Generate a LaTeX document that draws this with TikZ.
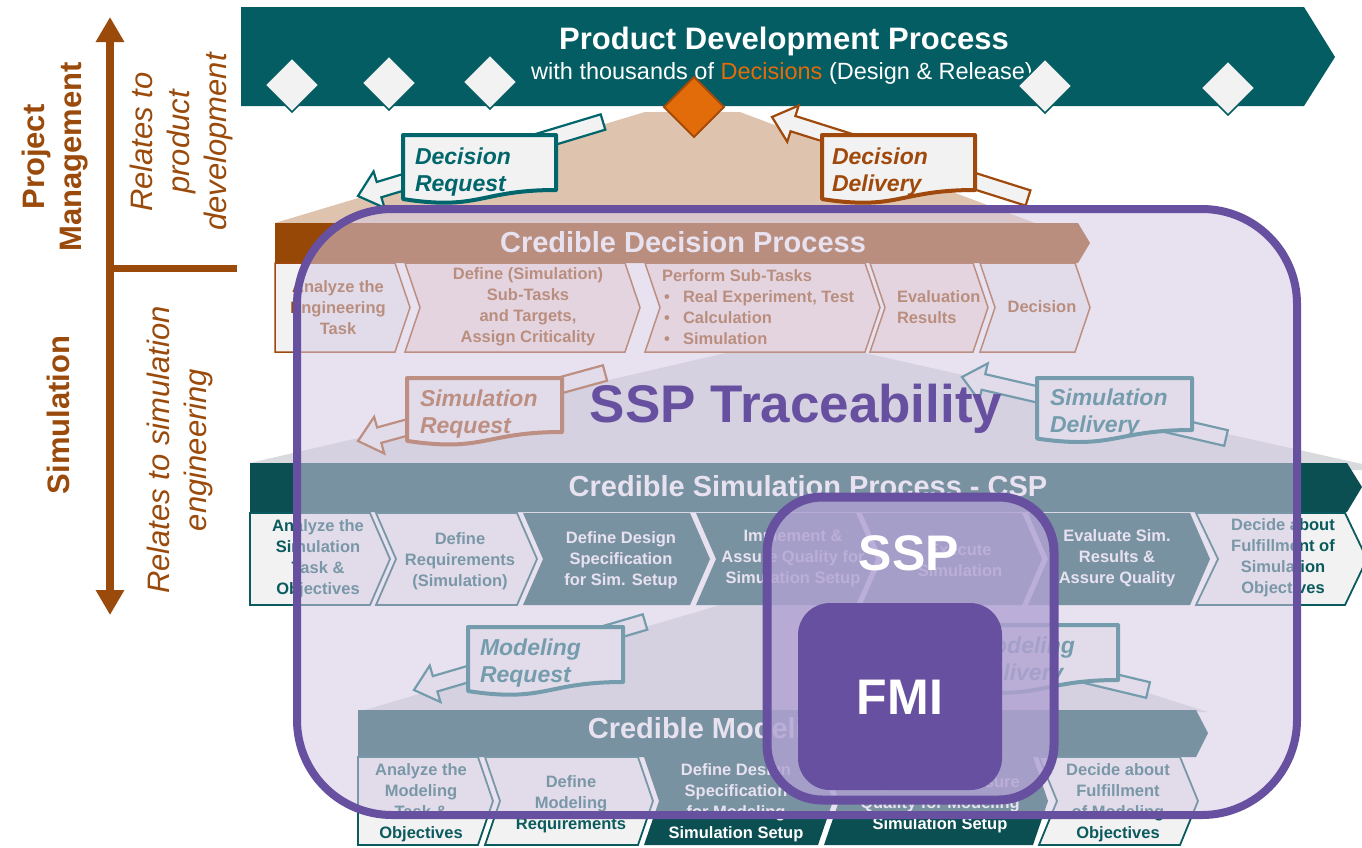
\documentclass[tikz,border=0pt]{standalone}
\usepackage{fontspec}
\setmainfont{Liberation Sans}
\usetikzlibrary{calc,shapes.geometric,arrows.meta}

\definecolor{bannerteal}{HTML}{035D62}
\definecolor{darkteal}{HTML}{0B4F53}
\definecolor{textteal}{HTML}{0B5A5E}
\definecolor{calloutteal}{HTML}{00666B}
\definecolor{pmbrown}{HTML}{9A4A0B}
\definecolor{barbrown}{HTML}{974706}
\definecolor{calloutbrown}{HTML}{A0490C}
\definecolor{decorange}{HTML}{E36C0A}
\definecolor{decedge}{HTML}{A64A0A}
\definecolor{lightfill}{HTML}{F2F2F2}
\definecolor{pinkfill}{HTML}{F8E2DA}
\definecolor{tanfill}{HTML}{DEC4AE}
\definecolor{tentgray}{HTML}{D8DADE}
\definecolor{ssppurple}{HTML}{67509F}
\definecolor{veil}{RGB}{213,202,228}
\definecolor{sspveil}{RGB}{176,162,210}

\newcommand{\fs}[2]{\fontsize{#1}{#2}\selectfont}

% process step with a notched left side: x0, x1, ytop, ybot, depth, style
\newcommand{\chevron}[6]{%
  \path[#6] (#1,#3) -- (#2,#3) -- ({#2+#5},{(#3+#4)/2}) -- (#2,#4) -- (#1,#4)
    -- ({#1+#5},{(#3+#4)/2}) -- cycle;}
% first step of a row, flat left side
\newcommand{\chevronflat}[6]{%
  \path[#6] (#1,#3) -- (#2,#3) -- ({#2+#5},{(#3+#4)/2}) -- (#2,#4) -- (#1,#4) -- cycle;}

% document-shaped message box: name, x0, ytop, x1, ybottom(right), colour
\newcommand{\docbox}[6]{%
  \pgfmathsetmacro\docH{(#5-#3)/0.802}%
  \pgfmathsetmacro\docL{#3+0.934*\docH}%
  \pgfmathsetmacro\docC{#3+1.107*\docH}%
  \pgfmathsetmacro\docM{(#2+#4)/2}%
  \draw[callbox, draw=#6] (#2,#3) -- (#4,#3) -- (#4,#5)
    .. controls (\docM,#5) and (\docM,\docC) .. (#2,\docL) -- cycle;
  \coordinate (#1) at (#2,#3);}

% hollow block arrow from a tail coordinate to a tip coordinate
\newcommand{\blockarrow}[3]{%
  \coordinate (#2-base) at ($(#2)!22pt!(#1)$);
  \draw[arrowbox, draw=#3] (#2) -- ($(#2-base)!19pt!90:(#2)$) -- ($(#2-base)!8pt!90:(#2)$)
    -- ($(#1)!8pt!90:(#2-base)$) -- ($(#1)!8pt!-90:(#2-base)$)
    -- ($(#2-base)!8pt!-90:(#2)$) -- ($(#2-base)!19pt!-90:(#2)$) -- cycle;}

\tikzset{
  every node/.style={inner sep=0pt, outer sep=0pt},
  dectext/.style={font=\bfseries\fs{16.5}{21}, text=barbrown, align=center},
  lighttext/.style={font=\bfseries\fs{16.5}{21}, text=textteal, align=center},
  darktext/.style={font=\bfseries\fs{16.5}{21}, text=white, align=center},
  bartitle/.style={font=\bfseries\fs{29}{34}, text=white},
  calltext/.style={font=\bfseries\itshape\fs{23}{27}, align=left, anchor=base west},
  callbox/.style={fill=lightfill, line width=4pt, line join=round},
  arrowbox/.style={fill=lightfill, line width=2.2pt, line join=miter},
  decstep/.style={fill=pinkfill, draw=calloutbrown, line width=1.5pt},
  decstepl/.style={fill=lightfill, draw=calloutbrown, line width=1.5pt},
  tealstepl/.style={fill=lightfill, draw=textteal, line width=1.8pt},
  tealstepd/.style={fill=darkteal},
  milestone/.style={diamond, minimum width=54pt, minimum height=54pt, fill=lightfill, draw=bannerteal, line width=1.5pt},
  sidebold/.style={font=\bfseries\fs{31}{37}, text=pmbrown, rotate=90, align=center},
  sideital/.style={font=\itshape\fs{31}{37}, text=pmbrown, rotate=90, align=center}
}

\begin{document}
\begin{tikzpicture}[x=1pt,y=-1pt]
\clip (0,0) rectangle (1362,847);
\fill[white] (0,0) rectangle (1362,847);

% fans linking one level to the next
\fill[tanfill] (275,223) -- (645,112) -- (740,112) -- (1035,223) -- cycle;
\fill[tentgray] (250,463) -- (730,352) -- (860,352) -- (1362,464) -- (1362,470) -- (250,470) -- cycle;
\fill[tentgray] (358,712) -- (720,605) -- (870,605) -- (1208,712) -- cycle;

% product development banner
\fill[bannerteal] (241,7) -- (1304,7) -- (1335,57) -- (1304,106) -- (241,106) -- cycle;
\node[font=\bfseries\fs{31}{31}, text=white] (pdp) at (784,41) {Product Development Process};
\node[font=\fs{23.5}{23.5}, text=white] (pdpsub) at (782,73)
  {with thousands of \textcolor{decorange}{Decisions} (Design \& Release)};
\node[milestone] (m1) at (292,85) {};
\node[milestone] (m2) at (389,83) {};
\node[milestone] (m3) at (490,82) {};
\node[milestone] (m4) at (1045,86) {};
\node[milestone] (m5) at (1228,88) {};
\node[diamond, minimum width=60pt, minimum height=60pt, fill=decorange, draw=decedge, line width=2pt] (dec) at (694,107) {};

% credible decision process
\fill[barbrown] (275,223) -- (1078,223) -- (1090,243) -- (1078,263) -- (275,263) -- cycle;
\node[bartitle] (cdp) at (683,242) {Credible Decision Process};
\chevronflat{275}{395}{263}{352}{15}{decstepl}
\chevron{405}{625}{263}{352}{15}{decstep}
\chevron{645}{865}{263}{352}{15}{decstep}
\chevron{870}{973}{263}{352}{15}{decstep}
\chevron{980}{1075}{263}{352}{15}{decstepl}
\node[dectext] (d1) at (338,308) {Analyze the\\Engineering\\Task};
\node[dectext] (d2) at (528,307) {Define (Simulation)\\Sub-Tasks\\and Targets,\\Assign Criticality};
\node[dectext, align=left, anchor=west] (d3) at (662,307)
  {Perform Sub-Tasks\\\hspace*{2pt}\makebox[19pt][l]{\textbullet}Real Experiment, Test\\
   \hspace*{2pt}\makebox[19pt][l]{\textbullet}Calculation\\\hspace*{2pt}\makebox[19pt][l]{\textbullet}Simulation};
\node[dectext, align=left, anchor=west] (d4) at (897,307) {Evaluation\\Results};
\node[dectext] (d5) at (1042,307) {Decision};

% credible simulation process
\fill[darkteal] (250,463) -- (1347,463) -- (1362,487) -- (1347,512) -- (250,512) -- cycle;
\node[bartitle] (csp) at (808,486) {Credible Simulation Process - CSP};
\chevron{523}{690}{513}{605}{20}{tealstepd}
\chevron{696}{856}{513}{605}{20}{tealstepd}
\chevron{862}{1022}{513}{605}{20}{tealstepd}
\chevron{1028}{1190}{513}{605}{20}{tealstepd}
\chevronflat{250}{370}{513}{605}{20}{tealstepl}
\chevron{376}{517}{513}{605}{20}{tealstepl}
\chevron{1196}{1345}{513}{605}{22}{tealstepl}
\node[lighttext] (s1) at (318,559) {Analyze the\\Simulation\\Task \&\\Objectives};
\node[lighttext] (s2) at (460,561) {Define\\Requirements\\(Simulation)};
\node[darktext] (s3) at (621,560) {Define Design\\Specification\\for Sim. Setup};
\node[darktext] (s4) at (793,558) {Implement \&\\Assure Quality for\\Simulation Setup};
\node[darktext] (s5) at (960,560) {Execute\\Simulation};
\node[darktext] (s6) at (1117,558) {Evaluate Sim.\\Results \&\\Assure Quality};
\node[lighttext] (s7) at (1283,558) {Decide about\\Fulfillment of\\Simulation\\Objectives};

% credible modeling process
\fill[darkteal] (358,710) -- (1196,710) -- (1208,733) -- (1196,757) -- (358,757) -- cycle;
\node[bartitle] (cmp) at (774,731) {Credible Modeling Process};
\chevron{644}{818}{757}{845}{15}{tealstepd}
\chevron{824}{1033}{757}{845}{15}{tealstepd}
\chevronflat{358}{478}{757}{845}{15}{tealstepl}
\chevron{485}{638}{757}{845}{15}{tealstepl}
\chevron{1039}{1180}{757}{845}{18}{tealstepl}
\node[lighttext] (p1) at (421,803) {Analyze the\\Modeling\\Task \&\\Objectives};
\node[lighttext] (p2) at (571,804) {Define\\Modeling\\Requirements};
\node[darktext] (p3) at (736,803) {Define Design\\Specification\\for Modeling\\Simulation Setup};
\node[darktext] (p4) at (940,804) {Implement \& Assure\\Quality for Modeling\\Simulation Setup};
\node[lighttext] (p5) at (1118,803) {Decide about\\Fulfillment\\of Modeling\\Objectives};

% requests and deliveries between the levels
\coordinate (drqtail) at (603,122);  \coordinate (drqtip) at (358,196);
\coordinate (ddltail) at (1028,198); \coordinate (ddltip) at (772,117);
\coordinate (srqtail) at (605,373);  \coordinate (srqtip) at (358,441);
\coordinate (sdltail) at (1226,438); \coordinate (sdltip) at (962,377);
\coordinate (mrqtail) at (645,622);  \coordinate (mrqtip) at (414,690);
\coordinate (mdltail) at (1148,690); \coordinate (mdltip) at (885,627);

\blockarrow{drqtail}{drqtip}{calloutteal}
\docbox{drq}{403}{135}{556}{190}{calloutteal}
\node[calltext, text=calloutteal] (drqtext) at (415,191) {Decision\\Request};

\blockarrow{ddltail}{ddltip}{calloutbrown}
\docbox{ddl}{822}{135}{975}{190}{calloutbrown}
\node[calltext, text=calloutbrown] (ddltext) at (832,191) {Decision\\Delivery};

\blockarrow{srqtail}{srqtip}{calloutbrown}
\docbox{srq}{407}{378}{562}{432}{calloutbrown}
\node[calltext, text=calloutbrown] (srqtext) at (420,433) {Simulation\\Request};

\blockarrow{sdltail}{sdltip}{calloutteal}
\docbox{sdl}{1037}{378}{1192}{430}{calloutteal}
\node[calltext, text=calloutteal] (sdltext) at (1050,432) {Simulation\\Delivery};

\blockarrow{mrqtail}{mrqtip}{calloutteal}
\docbox{mrq}{468}{627}{623}{682}{calloutteal}
\node[calltext, text=calloutteal] (mrqtext) at (480,682) {Modeling\\Request};

\blockarrow{mdltail}{mdltip}{calloutteal}
\docbox{mdl}{962}{625}{1118}{680}{calloutteal}
\node[calltext, text=calloutteal] (mdltext) at (974,680) {Modeling\\Delivery};

% SSP traceability layer
\draw[line width=8pt, draw=ssppurple, fill=veil, fill opacity=0.55, rounded corners=95pt]
  (297,209) rectangle (1297,815);
\node[font=\bfseries\fs{53}{53}, text=ssppurple] (trace) at (796,409) {SSP Traceability};
\draw[line width=9pt, draw=ssppurple, fill=sspveil, fill opacity=0.8, rounded corners=55pt]
  (767,497) rectangle (1054,800);
\node[font=\bfseries\fs{50}{50}, text=white] (ssp) at (909,553) {SSP};
\fill[ssppurple, rounded corners=32pt] (798,603) rectangle (1002,790);
\node[font=\bfseries\fs{50}{50}, text=white] (fmi) at (900,697) {FMI};

% level axis
\coordinate (axtop) at (110,17);
\coordinate (axbot) at (110,615);
\coordinate (axmid) at (110,268);
\coordinate (axend) at (237,268);
\draw[pmbrown, line width=8pt, {Triangle[width=27pt,length=25pt]}-{Triangle[width=27pt,length=25pt]}] (axtop) -- (axbot);
\draw[pmbrown, line width=7pt] (axmid) -- (axend);
\node[sidebold] (pm) at (55,157) {Project\\Management};
\node[sideital] (rel1) at (181,142) {Relates to\\product\\development};
\node[sidebold] (simlab) at (58,415) {Simulation};
\node[sideital] (rel2) at (180,450) {Relates to simulation\\engineering};
\end{tikzpicture}
\end{document}
